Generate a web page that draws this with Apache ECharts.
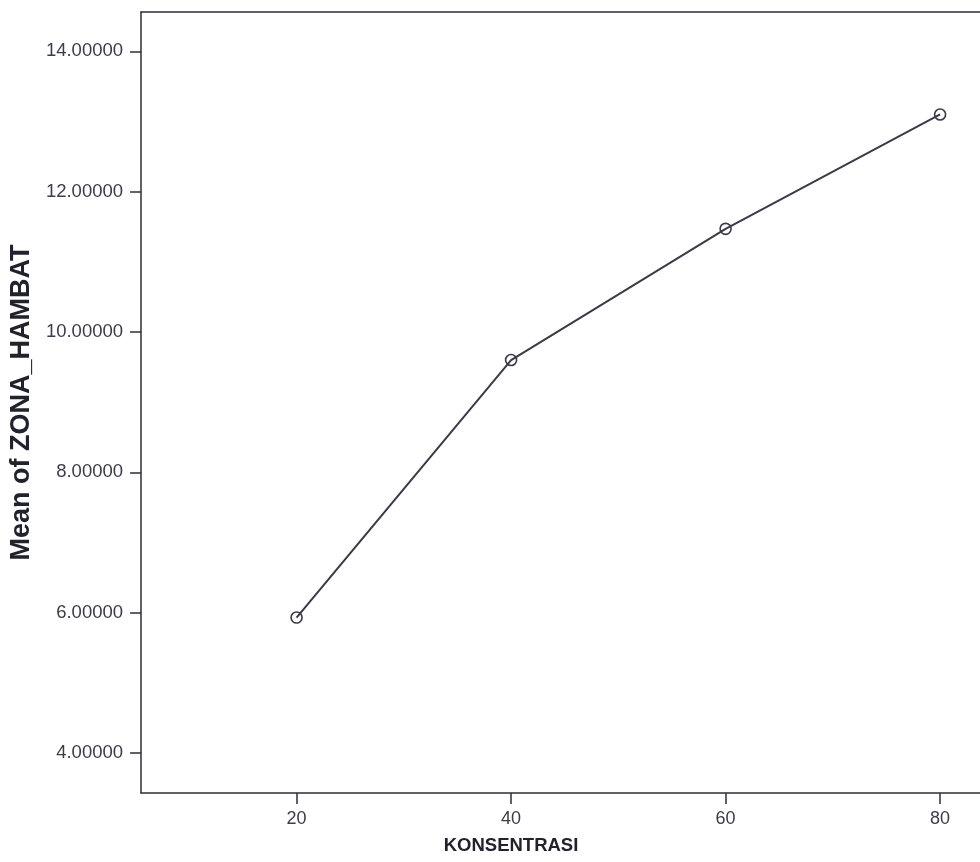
<!DOCTYPE html>
<html>
<head>
<meta charset="utf-8">
<script src="https://cdn.jsdelivr.net/npm/echarts@6/dist/echarts.min.js"></script>
<style>
html,body{margin:0;padding:0;background:#fff;}
#chart{width:980px;height:862px;}
</style>
</head>
<body>
<div id="chart"></div>
<script>
// Data
const konsentrasi = [20, 40, 60, 80];
const meanZonaHambat = [5.93, 9.60, 11.47, 13.10];
const xTickValues = [20, 40, 60, 80];
const yTickValues = [4, 6, 8, 10, 12, 14];
const xTitle = 'KONSENTRASI';
const yTitle = 'Mean of ZONA_HAMBAT';

const chart = echarts.init(document.getElementById('chart'), null, {renderer: 'canvas'});
const axisColor = '#2e2e38';
const labelColor = '#3c3c4a';
const font = 'Liberation Sans, Arial, sans-serif';
const xMin = 5.5, xMax = 83.72;

const option = {
  backgroundColor: '#ffffff',
  animation: false,
  grid: {
    left: 139, top: 12, bottom: 69, right: 0,
    show: false
  },
  xAxis: [{
    type: 'value',
    min: xMin, max: xMax,
    splitLine: {show: false},
    axisLine: {show: true, onZero: false, lineStyle: {color: axisColor, width: 1.5}},
    axisTick: {show: true, length: 11, customValues: xTickValues, lineStyle: {color: axisColor, width: 1.5}},
    axisLabel: {customValues: xTickValues, margin: 17, fontSize: 18, fontFamily: font, color: labelColor}
  }, {
    type: 'value',
    position: 'top',
    min: xMin, max: xMax,
    splitLine: {show: false},
    axisLine: {show: true, onZero: false, lineStyle: {color: axisColor, width: 1.5}},
    axisTick: {show: false},
    axisLabel: {show: false}
  }],
  yAxis: {
    type: 'value',
    min: 3.43, max: 14.56,
    name: yTitle,
    nameLocation: 'middle',
    nameGap: 104,
    nameTextStyle: {fontSize: 27, fontWeight: 'bold', fontFamily: font, color: '#22222c'},
    splitLine: {show: false},
    axisLine: {show: true, onZero: false, lineStyle: {color: axisColor, width: 1.5}},
    axisTick: {show: true, length: 11, customValues: yTickValues, lineStyle: {color: axisColor, width: 1.5}},
    axisLabel: {customValues: yTickValues, margin: 18, fontSize: 18.5, fontFamily: font, color: labelColor,
      formatter: v => v.toFixed(5)}
  },
  graphic: [{
    type: 'text',
    x: 511, y: 846,
    style: {
      text: xTitle,
      fontSize: 18.5, fontWeight: 'bold', fontFamily: font,
      fill: '#22222c', align: 'center', verticalAlign: 'middle'
    }
  }],
  series: [{
    type: 'line',
    xAxisIndex: 0,
    data: konsentrasi.map((k, i) => [k, meanZonaHambat[i]]),
    symbol: 'circle',
    symbolSize: 11,
    lineStyle: {color: '#3a3a48', width: 2},
    itemStyle: {color: 'rgba(255,255,255,0)', borderColor: '#3a3a48', borderWidth: 1.6},
    z: 3
  }]
};
chart.setOption(option);
</script>
</body>
</html>
